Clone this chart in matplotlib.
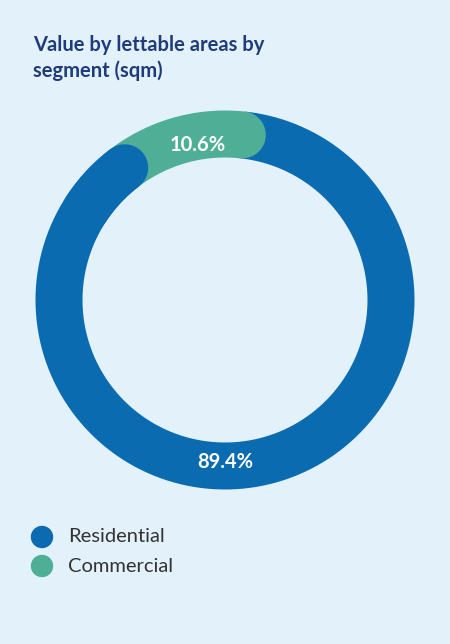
import numpy as np
import matplotlib
matplotlib.use("Agg")
import matplotlib.pyplot as plt

categories = ["Residential", "Commercial"]
values = [89.4, 10.6]
labels = ["89.4%", "10.6%"]
colors = ["#0B6BB0", "#4FAE96"]
bg = "#E3F1FB"

fig = plt.figure(figsize=(4.5, 6.44), dpi=100, facecolor=bg)
ax = fig.add_axes([0, 0, 1, 1])
ax.set_xlim(0, 450); ax.set_ylim(644, 0); ax.axis("off")
ax.set_facecolor(bg)

cx, cy, r = 225, 300, 166
lw = 47 * 72 / 100
start = 84  # degrees, right end of commercial
span_c = values[1] / 100 * 360 + 5
end_c = start + span_c

def arc(a0, a1, col, cap):
    t = np.radians(np.linspace(a0, a1, 300))
    ax.plot(cx + r*np.cos(t), cy - r*np.sin(t), color=col, lw=lw, solid_capstyle=cap)

arc(end_c, start + 360, colors[0], "butt")
arc(start, end_c, colors[1], "round")
arc(end_c, end_c + 20, colors[0], "round")

fp = dict(family=["Lato", "DejaVu Sans"])
ax.text(198, 145, labels[1], color="white", fontsize=14.5, fontweight="bold", ha="center", va="center", **fp)
ax.text(225, 462, labels[0], color="white", fontsize=14.5, fontweight="bold", ha="center", va="center", **fp)

ax.text(33, 58, "Value by lettable areas by\nsegment (sqm)", color="#1F3C7A", fontsize=14.5,
        fontweight="bold", ha="left", va="center", linespacing=1.3, **fp)

for i, (c, col) in enumerate(zip(categories, colors)):
    y = 537 + i * 29
    ax.scatter([42], [y], s=260, color=col, edgecolors="none")
    ax.text(68, y, c, color="#333333", fontsize=14.5, ha="left", va="center", **fp)

fig.savefig("out.png", dpi=100, facecolor=bg)
